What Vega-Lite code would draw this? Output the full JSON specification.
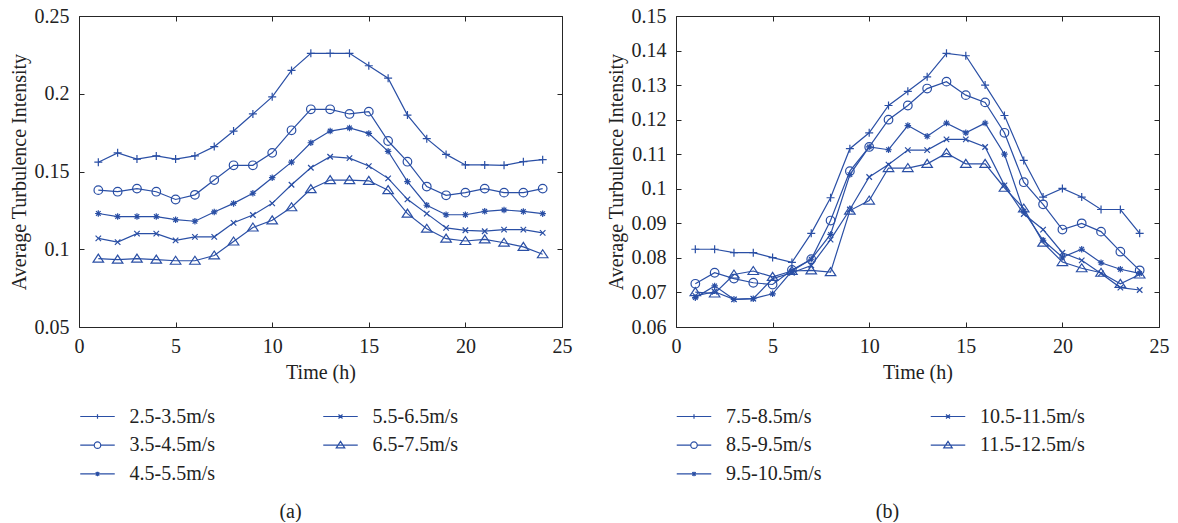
{
  "$schema": "https://vega.github.io/schema/vega-lite/v6.json",
  "background": "white",
  "padding": {"left": 8, "top": 5, "right": 5, "bottom": 0},
  "bounds": "flush",
  "spacing": 114,
  "config": {
    "font": "Liberation Serif",
    "view": {"stroke": "#262626", "strokeWidth": 1},
    "axis": {"labelFont": "Liberation Serif", "titleFont": "Liberation Serif", "labelFontSize": 20, "titleFontSize": 20, "titleFontWeight": "normal", "labelColor": "#222", "titleColor": "#222", "tickColor": "#262626", "grid": false, "domain": false, "labelFlush": false, "labelOverlap": false}
  },
  "datasets": {
    "a": [
      {"h":1,"v":0.156,"s":"2.5-3.5m/s"},{"h":2,"v":0.162,"s":"2.5-3.5m/s"},{"h":3,"v":0.158,"s":"2.5-3.5m/s"},{"h":4,"v":0.160,"s":"2.5-3.5m/s"},{"h":5,"v":0.158,"s":"2.5-3.5m/s"},{"h":6,"v":0.160,"s":"2.5-3.5m/s"},{"h":7,"v":0.166,"s":"2.5-3.5m/s"},{"h":8,"v":0.176,"s":"2.5-3.5m/s"},{"h":9,"v":0.187,"s":"2.5-3.5m/s"},{"h":10,"v":0.198,"s":"2.5-3.5m/s"},{"h":11,"v":0.215,"s":"2.5-3.5m/s"},{"h":12,"v":0.226,"s":"2.5-3.5m/s"},{"h":13,"v":0.226,"s":"2.5-3.5m/s"},{"h":14,"v":0.226,"s":"2.5-3.5m/s"},{"h":15,"v":0.218,"s":"2.5-3.5m/s"},{"h":16,"v":0.210,"s":"2.5-3.5m/s"},{"h":17,"v":0.1863,"s":"2.5-3.5m/s"},{"h":18,"v":0.1711,"s":"2.5-3.5m/s"},{"h":19,"v":0.161,"s":"2.5-3.5m/s"},{"h":20,"v":0.1542,"s":"2.5-3.5m/s"},{"h":21,"v":0.1542,"s":"2.5-3.5m/s"},{"h":22,"v":0.154,"s":"2.5-3.5m/s"},{"h":23,"v":0.1563,"s":"2.5-3.5m/s"},{"h":24,"v":0.1576,"s":"2.5-3.5m/s"},
      {"h":1,"v":0.138,"s":"3.5-4.5m/s"},{"h":2,"v":0.137,"s":"3.5-4.5m/s"},{"h":3,"v":0.139,"s":"3.5-4.5m/s"},{"h":4,"v":0.137,"s":"3.5-4.5m/s"},{"h":5,"v":0.132,"s":"3.5-4.5m/s"},{"h":6,"v":0.135,"s":"3.5-4.5m/s"},{"h":7,"v":0.1445,"s":"3.5-4.5m/s"},{"h":8,"v":0.154,"s":"3.5-4.5m/s"},{"h":9,"v":0.154,"s":"3.5-4.5m/s"},{"h":10,"v":0.162,"s":"3.5-4.5m/s"},{"h":11,"v":0.1765,"s":"3.5-4.5m/s"},{"h":12,"v":0.190,"s":"3.5-4.5m/s"},{"h":13,"v":0.190,"s":"3.5-4.5m/s"},{"h":14,"v":0.187,"s":"3.5-4.5m/s"},{"h":15,"v":0.1885,"s":"3.5-4.5m/s"},{"h":16,"v":0.1696,"s":"3.5-4.5m/s"},{"h":17,"v":0.1563,"s":"3.5-4.5m/s"},{"h":18,"v":0.1403,"s":"3.5-4.5m/s"},{"h":19,"v":0.1347,"s":"3.5-4.5m/s"},{"h":20,"v":0.1364,"s":"3.5-4.5m/s"},{"h":21,"v":0.139,"s":"3.5-4.5m/s"},{"h":22,"v":0.1364,"s":"3.5-4.5m/s"},{"h":23,"v":0.1364,"s":"3.5-4.5m/s"},{"h":24,"v":0.139,"s":"3.5-4.5m/s"},
      {"h":1,"v":0.123,"s":"4.5-5.5m/s"},{"h":2,"v":0.121,"s":"4.5-5.5m/s"},{"h":3,"v":0.121,"s":"4.5-5.5m/s"},{"h":4,"v":0.121,"s":"4.5-5.5m/s"},{"h":5,"v":0.119,"s":"4.5-5.5m/s"},{"h":6,"v":0.118,"s":"4.5-5.5m/s"},{"h":7,"v":0.124,"s":"4.5-5.5m/s"},{"h":8,"v":0.1295,"s":"4.5-5.5m/s"},{"h":9,"v":0.136,"s":"4.5-5.5m/s"},{"h":10,"v":0.146,"s":"4.5-5.5m/s"},{"h":11,"v":0.156,"s":"4.5-5.5m/s"},{"h":12,"v":0.1685,"s":"4.5-5.5m/s"},{"h":13,"v":0.176,"s":"4.5-5.5m/s"},{"h":14,"v":0.178,"s":"4.5-5.5m/s"},{"h":15,"v":0.1745,"s":"4.5-5.5m/s"},{"h":16,"v":0.163,"s":"4.5-5.5m/s"},{"h":17,"v":0.1435,"s":"4.5-5.5m/s"},{"h":18,"v":0.1283,"s":"4.5-5.5m/s"},{"h":19,"v":0.1222,"s":"4.5-5.5m/s"},{"h":20,"v":0.1222,"s":"4.5-5.5m/s"},{"h":21,"v":0.1244,"s":"4.5-5.5m/s"},{"h":22,"v":0.1253,"s":"4.5-5.5m/s"},{"h":23,"v":0.1243,"s":"4.5-5.5m/s"},{"h":24,"v":0.1229,"s":"4.5-5.5m/s"},
      {"h":1,"v":0.107,"s":"5.5-6.5m/s"},{"h":2,"v":0.1046,"s":"5.5-6.5m/s"},{"h":3,"v":0.110,"s":"5.5-6.5m/s"},{"h":4,"v":0.110,"s":"5.5-6.5m/s"},{"h":5,"v":0.1057,"s":"5.5-6.5m/s"},{"h":6,"v":0.108,"s":"5.5-6.5m/s"},{"h":7,"v":0.108,"s":"5.5-6.5m/s"},{"h":8,"v":0.117,"s":"5.5-6.5m/s"},{"h":9,"v":0.122,"s":"5.5-6.5m/s"},{"h":10,"v":0.1295,"s":"5.5-6.5m/s"},{"h":11,"v":0.1415,"s":"5.5-6.5m/s"},{"h":12,"v":0.1524,"s":"5.5-6.5m/s"},{"h":13,"v":0.1595,"s":"5.5-6.5m/s"},{"h":14,"v":0.1586,"s":"5.5-6.5m/s"},{"h":15,"v":0.1535,"s":"5.5-6.5m/s"},{"h":16,"v":0.1456,"s":"5.5-6.5m/s"},{"h":17,"v":0.1321,"s":"5.5-6.5m/s"},{"h":18,"v":0.1229,"s":"5.5-6.5m/s"},{"h":19,"v":0.1137,"s":"5.5-6.5m/s"},{"h":20,"v":0.1122,"s":"5.5-6.5m/s"},{"h":21,"v":0.1116,"s":"5.5-6.5m/s"},{"h":22,"v":0.1126,"s":"5.5-6.5m/s"},{"h":23,"v":0.1126,"s":"5.5-6.5m/s"},{"h":24,"v":0.1105,"s":"5.5-6.5m/s"},
      {"h":1,"v":0.094,"s":"6.5-7.5m/s"},{"h":2,"v":0.0933,"s":"6.5-7.5m/s"},{"h":3,"v":0.094,"s":"6.5-7.5m/s"},{"h":4,"v":0.0933,"s":"6.5-7.5m/s"},{"h":5,"v":0.0926,"s":"6.5-7.5m/s"},{"h":6,"v":0.0926,"s":"6.5-7.5m/s"},{"h":7,"v":0.096,"s":"6.5-7.5m/s"},{"h":8,"v":0.105,"s":"6.5-7.5m/s"},{"h":9,"v":0.114,"s":"6.5-7.5m/s"},{"h":10,"v":0.1186,"s":"6.5-7.5m/s"},{"h":11,"v":0.127,"s":"6.5-7.5m/s"},{"h":12,"v":0.1387,"s":"6.5-7.5m/s"},{"h":13,"v":0.1445,"s":"6.5-7.5m/s"},{"h":14,"v":0.1445,"s":"6.5-7.5m/s"},{"h":15,"v":0.144,"s":"6.5-7.5m/s"},{"h":16,"v":0.138,"s":"6.5-7.5m/s"},{"h":17,"v":0.1229,"s":"6.5-7.5m/s"},{"h":18,"v":0.1132,"s":"6.5-7.5m/s"},{"h":19,"v":0.1068,"s":"6.5-7.5m/s"},{"h":20,"v":0.1053,"s":"6.5-7.5m/s"},{"h":21,"v":0.1064,"s":"6.5-7.5m/s"},{"h":22,"v":0.1042,"s":"6.5-7.5m/s"},{"h":23,"v":0.1015,"s":"6.5-7.5m/s"},{"h":24,"v":0.0968,"s":"6.5-7.5m/s"}
    ],
    "b": [
      {"h":1,"v":0.0825,"s":"7.5-8.5m/s"},{"h":2,"v":0.0825,"s":"7.5-8.5m/s"},{"h":3,"v":0.0815,"s":"7.5-8.5m/s"},{"h":4,"v":0.0815,"s":"7.5-8.5m/s"},{"h":5,"v":0.0801,"s":"7.5-8.5m/s"},{"h":6,"v":0.0787,"s":"7.5-8.5m/s"},{"h":7,"v":0.0871,"s":"7.5-8.5m/s"},{"h":8,"v":0.0974,"s":"7.5-8.5m/s"},{"h":9,"v":0.1116,"s":"7.5-8.5m/s"},{"h":10,"v":0.1162,"s":"7.5-8.5m/s"},{"h":11,"v":0.1241,"s":"7.5-8.5m/s"},{"h":12,"v":0.1282,"s":"7.5-8.5m/s"},{"h":13,"v":0.1324,"s":"7.5-8.5m/s"},{"h":14,"v":0.1392,"s":"7.5-8.5m/s"},{"h":15,"v":0.1385,"s":"7.5-8.5m/s"},{"h":16,"v":0.1300,"s":"7.5-8.5m/s"},{"h":17,"v":0.1212,"s":"7.5-8.5m/s"},{"h":18,"v":0.1082,"s":"7.5-8.5m/s"},{"h":19,"v":0.0976,"s":"7.5-8.5m/s"},{"h":20,"v":0.1001,"s":"7.5-8.5m/s"},{"h":21,"v":0.0976,"s":"7.5-8.5m/s"},{"h":22,"v":0.0940,"s":"7.5-8.5m/s"},{"h":23,"v":0.0940,"s":"7.5-8.5m/s"},{"h":24,"v":0.0871,"s":"7.5-8.5m/s"},
      {"h":1,"v":0.0725,"s":"8.5-9.5m/s"},{"h":2,"v":0.0757,"s":"8.5-9.5m/s"},{"h":3,"v":0.0740,"s":"8.5-9.5m/s"},{"h":4,"v":0.0728,"s":"8.5-9.5m/s"},{"h":5,"v":0.0723,"s":"8.5-9.5m/s"},{"h":6,"v":0.0765,"s":"8.5-9.5m/s"},{"h":7,"v":0.0796,"s":"8.5-9.5m/s"},{"h":8,"v":0.0908,"s":"8.5-9.5m/s"},{"h":9,"v":0.1051,"s":"8.5-9.5m/s"},{"h":10,"v":0.1121,"s":"8.5-9.5m/s"},{"h":11,"v":0.1200,"s":"8.5-9.5m/s"},{"h":12,"v":0.1241,"s":"8.5-9.5m/s"},{"h":13,"v":0.1290,"s":"8.5-9.5m/s"},{"h":14,"v":0.1310,"s":"8.5-9.5m/s"},{"h":15,"v":0.1271,"s":"8.5-9.5m/s"},{"h":16,"v":0.1250,"s":"8.5-9.5m/s"},{"h":17,"v":0.1162,"s":"8.5-9.5m/s"},{"h":18,"v":0.1019,"s":"8.5-9.5m/s"},{"h":19,"v":0.0955,"s":"8.5-9.5m/s"},{"h":20,"v":0.0882,"s":"8.5-9.5m/s"},{"h":21,"v":0.0900,"s":"8.5-9.5m/s"},{"h":22,"v":0.0876,"s":"8.5-9.5m/s"},{"h":23,"v":0.0818,"s":"8.5-9.5m/s"},{"h":24,"v":0.0764,"s":"8.5-9.5m/s"},
      {"h":1,"v":0.0685,"s":"9.5-10.5m/s"},{"h":2,"v":0.0719,"s":"9.5-10.5m/s"},{"h":3,"v":0.0680,"s":"9.5-10.5m/s"},{"h":4,"v":0.0682,"s":"9.5-10.5m/s"},{"h":5,"v":0.0696,"s":"9.5-10.5m/s"},{"h":6,"v":0.0762,"s":"9.5-10.5m/s"},{"h":7,"v":0.0796,"s":"9.5-10.5m/s"},{"h":8,"v":0.0868,"s":"9.5-10.5m/s"},{"h":9,"v":0.1041,"s":"9.5-10.5m/s"},{"h":10,"v":0.1121,"s":"9.5-10.5m/s"},{"h":11,"v":0.1113,"s":"9.5-10.5m/s"},{"h":12,"v":0.1183,"s":"9.5-10.5m/s"},{"h":13,"v":0.1152,"s":"9.5-10.5m/s"},{"h":14,"v":0.1190,"s":"9.5-10.5m/s"},{"h":15,"v":0.1162,"s":"9.5-10.5m/s"},{"h":16,"v":0.1190,"s":"9.5-10.5m/s"},{"h":17,"v":0.1100,"s":"9.5-10.5m/s"},{"h":18,"v":0.0935,"s":"9.5-10.5m/s"},{"h":19,"v":0.0851,"s":"9.5-10.5m/s"},{"h":20,"v":0.0802,"s":"9.5-10.5m/s"},{"h":21,"v":0.0825,"s":"9.5-10.5m/s"},{"h":22,"v":0.0786,"s":"9.5-10.5m/s"},{"h":23,"v":0.0767,"s":"9.5-10.5m/s"},{"h":24,"v":0.0755,"s":"9.5-10.5m/s"},
      {"h":1,"v":0.0690,"s":"10.5-11.5m/s"},{"h":2,"v":0.0702,"s":"10.5-11.5m/s"},{"h":3,"v":0.0680,"s":"10.5-11.5m/s"},{"h":4,"v":0.0682,"s":"10.5-11.5m/s"},{"h":5,"v":0.0740,"s":"10.5-11.5m/s"},{"h":6,"v":0.0757,"s":"10.5-11.5m/s"},{"h":7,"v":0.0778,"s":"10.5-11.5m/s"},{"h":8,"v":0.0853,"s":"10.5-11.5m/s"},{"h":9,"v":0.0940,"s":"10.5-11.5m/s"},{"h":10,"v":0.1034,"s":"10.5-11.5m/s"},{"h":11,"v":0.1070,"s":"10.5-11.5m/s"},{"h":12,"v":0.1112,"s":"10.5-11.5m/s"},{"h":13,"v":0.1112,"s":"10.5-11.5m/s"},{"h":14,"v":0.1143,"s":"10.5-11.5m/s"},{"h":15,"v":0.1143,"s":"10.5-11.5m/s"},{"h":16,"v":0.1121,"s":"10.5-11.5m/s"},{"h":17,"v":0.1010,"s":"10.5-11.5m/s"},{"h":18,"v":0.0927,"s":"10.5-11.5m/s"},{"h":19,"v":0.0882,"s":"10.5-11.5m/s"},{"h":20,"v":0.0815,"s":"10.5-11.5m/s"},{"h":21,"v":0.0793,"s":"10.5-11.5m/s"},{"h":22,"v":0.0755,"s":"10.5-11.5m/s"},{"h":23,"v":0.0714,"s":"10.5-11.5m/s"},{"h":24,"v":0.0707,"s":"10.5-11.5m/s"},
      {"h":1,"v":0.0701,"s":"11.5-12.5m/s"},{"h":2,"v":0.0697,"s":"11.5-12.5m/s"},{"h":3,"v":0.0752,"s":"11.5-12.5m/s"},{"h":4,"v":0.0762,"s":"11.5-12.5m/s"},{"h":5,"v":0.0745,"s":"11.5-12.5m/s"},{"h":6,"v":0.0762,"s":"11.5-12.5m/s"},{"h":7,"v":0.0764,"s":"11.5-12.5m/s"},{"h":8,"v":0.0759,"s":"11.5-12.5m/s"},{"h":9,"v":0.0937,"s":"11.5-12.5m/s"},{"h":10,"v":0.0966,"s":"11.5-12.5m/s"},{"h":11,"v":0.1060,"s":"11.5-12.5m/s"},{"h":12,"v":0.1060,"s":"11.5-12.5m/s"},{"h":13,"v":0.1072,"s":"11.5-12.5m/s"},{"h":14,"v":0.1103,"s":"11.5-12.5m/s"},{"h":15,"v":0.1072,"s":"11.5-12.5m/s"},{"h":16,"v":0.1072,"s":"11.5-12.5m/s"},{"h":17,"v":0.1003,"s":"11.5-12.5m/s"},{"h":18,"v":0.0943,"s":"11.5-12.5m/s"},{"h":19,"v":0.0844,"s":"11.5-12.5m/s"},{"h":20,"v":0.0788,"s":"11.5-12.5m/s"},{"h":21,"v":0.0770,"s":"11.5-12.5m/s"},{"h":22,"v":0.0757,"s":"11.5-12.5m/s"},{"h":23,"v":0.0725,"s":"11.5-12.5m/s"},{"h":24,"v":0.0752,"s":"11.5-12.5m/s"}
    ]
  },
  "hconcat": [
    {
      "width": 483,
      "height": 311,
      "data": {"name": "a"},
      "title": {"text": "(a)", "orient": "bottom", "frame": "bounds", "anchor": "middle", "font": "Liberation Serif", "fontSize": 20, "fontWeight": "normal", "color": "#222", "offset": 17},
      "layer": [
        {
          "mark": {"type": "line", "color": "#2A4FA5", "strokeWidth": 1.2},
          "encoding": {
            "x": {"field": "h", "type": "quantitative", "scale": {"domain": [0, 25], "nice": false, "zero": false}, "axis": {"orient": "bottom", "values": [0, 5, 10, 15, 20, 25], "title": "Time (h)", "tickSize": -5, "labelPadding": 14, "titlePadding": 6}},
            "y": {"field": "v", "type": "quantitative", "scale": {"domain": [0.05, 0.25], "nice": false, "zero": false}, "axis": {"orient": "left", "values": [0.05, 0.1, 0.15, 0.2, 0.25], "format": ".2~f", "title": "Average Turbulence Intensity", "tickSize": -5, "labelPadding": 15, "titlePadding": 5}},
            "detail": {"field": "s", "type": "nominal"}
          }
        },
        {
          "mark": {"type": "point", "filled": false, "color": "#2A4FA5", "strokeWidth": 1.2, "size": 100, "opacity": 1},
          "encoding": {
            "x": {"field": "h", "type": "quantitative", "axis": {"orient": "top", "values": [0, 5, 10, 15, 20, 25], "labels": false, "title": null, "tickSize": -5}},
            "y": {"field": "v", "type": "quantitative", "axis": {"orient": "right", "values": [0.05, 0.1, 0.15, 0.2, 0.25], "labels": false, "title": null, "tickSize": -5}},
            "shape": {"field": "s", "type": "nominal", "legend": null, "scale": {
              "domain": ["2.5-3.5m/s", "3.5-4.5m/s", "4.5-5.5m/s", "5.5-6.5m/s", "6.5-7.5m/s"],
              "range": ["M-0.8,0H0.8M0,-0.8V0.8", "M0.86,0A0.86,0.86,0,1,1,-0.86,0A0.86,0.86,0,1,1,0.86,0Z", "M-0.65,0H0.65M0,-0.65V0.65M-0.46,-0.46L0.46,0.46M-0.46,0.46L0.46,-0.46", "M-0.55,-0.55L0.55,0.55M-0.55,0.55L0.55,-0.55", "M0,-0.9L1.05,0.7L-1.05,0.7Z"]}}
          }
        },
        {
          "transform": [{"filter": "false"}],
          "mark": {"type": "point", "filled": false, "color": "#2A4FA5", "strokeWidth": 1.2, "opacity": 1},
          "encoding": {
            "shape": {"field": "s", "type": "nominal", "scale": {
              "domain": ["2.5-3.5m/s", "3.5-4.5m/s", "4.5-5.5m/s", "5.5-6.5m/s", "6.5-7.5m/s"],
              "range": ["M-3.45,0H3.45M0,-0.45V0.45", "M-3.45,0H-0.65M0.65,0H3.45M0.65,0A0.65,0.65,0,1,1,-0.65,0A0.65,0.65,0,1,1,0.65,0Z", "M-3.45,0H3.45M0,-0.45V0.45M-0.35,-0.35L0.35,0.35M-0.35,0.35L0.35,-0.35", "M-3.45,0H3.45M-0.4,-0.4L0.4,0.4M-0.4,0.4L0.4,-0.4", "M-3.45,0H3.45M0,-0.75L0.85,0.55L-0.85,0.55Z"]},
              "legend": {"orient": "none", "legendX": 8.5, "legendY": 390.5, "columns": 2, "columnPadding": 105, "rowPadding": 8.7, "title": null, "padding": 0, "symbolSize": 100, "symbolStrokeWidth": 1.2, "symbolStrokeColor": "#2A4FA5", "symbolFillColor": "transparent", "labelFont": "Liberation Serif", "labelFontSize": 20, "labelColor": "#222", "labelOffset": 22, "labelLimit": 300}}
          }
        }
      ],
      "resolve": {"scale": {"shape": "independent"}, "axis": {"x": "independent", "y": "independent"}}
    },
    {
      "width": 483,
      "height": 311,
      "data": {"name": "b"},
      "title": {"text": "(b)", "orient": "bottom", "frame": "bounds", "anchor": "middle", "font": "Liberation Serif", "fontSize": 20, "fontWeight": "normal", "color": "#222", "offset": 17},
      "layer": [
        {
          "mark": {"type": "line", "color": "#2A4FA5", "strokeWidth": 1.2},
          "encoding": {
            "x": {"field": "h", "type": "quantitative", "scale": {"domain": [0, 25], "nice": false, "zero": false}, "axis": {"orient": "bottom", "values": [0, 5, 10, 15, 20, 25], "title": "Time (h)", "tickSize": -5, "labelPadding": 14, "titlePadding": 6}},
            "y": {"field": "v", "type": "quantitative", "scale": {"domain": [0.06, 0.15], "nice": false, "zero": false}, "axis": {"orient": "left", "values": [0.06, 0.07, 0.08, 0.09, 0.1, 0.11, 0.12, 0.13, 0.14, 0.15], "format": ".2~f", "title": "Average Turbulence Intensity", "tickSize": -5, "labelPadding": 15, "titlePadding": 5}},
            "detail": {"field": "s", "type": "nominal"}
          }
        },
        {
          "mark": {"type": "point", "filled": false, "color": "#2A4FA5", "strokeWidth": 1.2, "size": 100, "opacity": 1},
          "encoding": {
            "x": {"field": "h", "type": "quantitative", "axis": {"orient": "top", "values": [0, 5, 10, 15, 20, 25], "labels": false, "title": null, "tickSize": -5}},
            "y": {"field": "v", "type": "quantitative", "axis": {"orient": "right", "values": [0.06, 0.07, 0.08, 0.09, 0.1, 0.11, 0.12, 0.13, 0.14, 0.15], "labels": false, "title": null, "tickSize": -5}},
            "shape": {"field": "s", "type": "nominal", "legend": null, "scale": {
              "domain": ["7.5-8.5m/s", "8.5-9.5m/s", "9.5-10.5m/s", "10.5-11.5m/s", "11.5-12.5m/s"],
              "range": ["M-0.8,0H0.8M0,-0.8V0.8", "M0.86,0A0.86,0.86,0,1,1,-0.86,0A0.86,0.86,0,1,1,0.86,0Z", "M-0.65,0H0.65M0,-0.65V0.65M-0.46,-0.46L0.46,0.46M-0.46,0.46L0.46,-0.46", "M-0.55,-0.55L0.55,0.55M-0.55,0.55L0.55,-0.55", "M0,-0.9L1.05,0.7L-1.05,0.7Z"]}}
          }
        },
        {
          "transform": [{"filter": "false"}],
          "mark": {"type": "point", "filled": false, "color": "#2A4FA5", "strokeWidth": 1.2, "opacity": 1},
          "encoding": {
            "shape": {"field": "s", "type": "nominal", "scale": {
              "domain": ["7.5-8.5m/s", "8.5-9.5m/s", "9.5-10.5m/s", "10.5-11.5m/s", "11.5-12.5m/s"],
              "range": ["M-3.45,0H3.45M0,-0.45V0.45", "M-3.45,0H-0.65M0.65,0H3.45M0.65,0A0.65,0.65,0,1,1,-0.65,0A0.65,0.65,0,1,1,0.65,0Z", "M-3.45,0H3.45M0,-0.45V0.45M-0.35,-0.35L0.35,0.35M-0.35,0.35L0.35,-0.35", "M-3.45,0H3.45M-0.4,-0.4L0.4,0.4M-0.4,0.4L0.4,-0.4", "M-3.45,0H3.45M0,-0.75L0.85,0.55L-0.85,0.55Z"]},
              "legend": {"orient": "none", "legendX": 8, "legendY": 390.5, "columns": 2, "columnPadding": 106, "rowPadding": 8.7, "title": null, "padding": 0, "symbolSize": 100, "symbolStrokeWidth": 1.2, "symbolStrokeColor": "#2A4FA5", "symbolFillColor": "transparent", "labelFont": "Liberation Serif", "labelFontSize": 20, "labelColor": "#222", "labelOffset": 22, "labelLimit": 300}}
          }
        }
      ],
      "resolve": {"scale": {"shape": "independent"}, "axis": {"x": "independent", "y": "independent"}}
    }
  ]
}
